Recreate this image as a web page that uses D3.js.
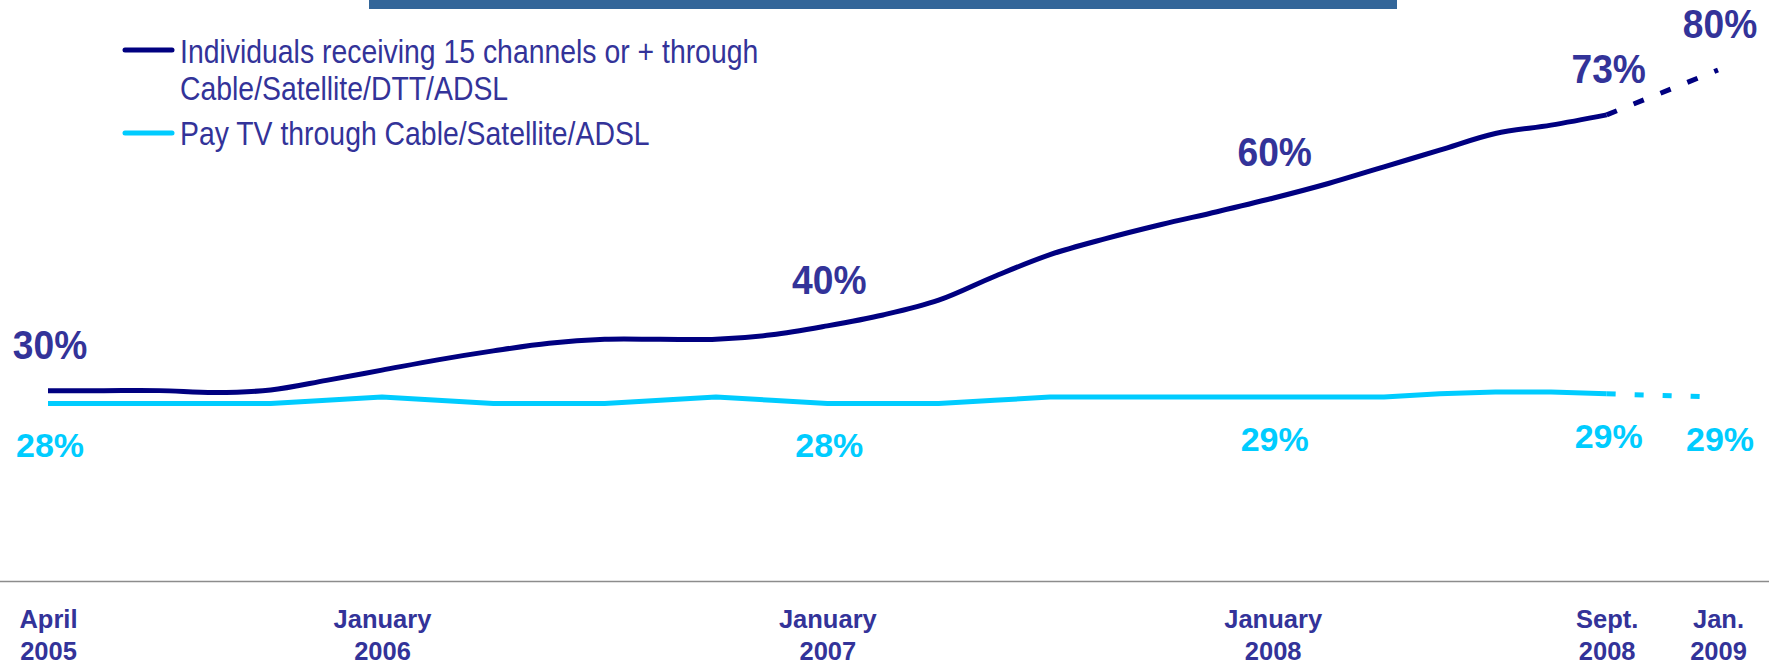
<!DOCTYPE html>
<html lang="en">
<head>
<meta charset="utf-8">
<title>Multichannel TV reception</title>
<script src="https://cdn.jsdelivr.net/npm/d3@7"></script>
<style>
  body { margin: 0; background: #fff; }
  svg text { font-family: "Liberation Sans", Arial, sans-serif; }
  .xaxis text { font-size: 25.5px; font-weight: bold; fill: #333399; }
</style>
</head>
<body>
<script>
// months counted from April 2005 (one wave every 1.5 months)
var months = [0, 1.5, 3, 4.5, 6, 7.5, 9, 10.5, 12, 13.5, 15, 16.5, 18, 19.5, 21, 22.5,
              24, 25.5, 27, 28.5, 30, 31.5, 33, 34.5, 36, 37.5, 39, 40.5, 42];
var channels15 = [30, 30, 30, 29.7, 30.1, 31.6, 33.2, 34.8, 36.2, 37.4, 38, 38, 38, 38.7, 40.1, 41.8,
                  44.1, 47.8, 51.2, 53.7, 55.9, 57.9, 60, 62.3, 64.9, 67.5, 70.1, 71.4, 73];
var payTV = [28, 28, 28, 28, 28, 28.5, 29, 28.5, 28, 28, 28, 28.5, 29, 28.5, 28, 28,
             28, 28.5, 29, 29, 29, 29, 29, 29, 29, 29.5, 29.8, 29.8, 29.5];

// projection Sept. 2008 -> Jan. 2009
var projMonths = [42, 45];
var channels15Proj = [73, 80];
var payTVProj = [29.5, 29];

// value labels
var labelMonths = [0, 21, 33, 42, 45];
var channels15Labels = ["30%", "40%", "60%", "73%", "80%"];
var payTVLabels = ["28%", "28%", "29%", "29%", "29%"];

// x axis
var tickMonths = [0, 9, 21, 33, 42, 45];
var tickLine1 = ["April", "January", "January", "January", "Sept.", "Jan."];
var tickLine2 = ["2005", "2006", "2007", "2008", "2008", "2009"];

var seriesNames = ["Individuals receiving 15 channels or + through", "Cable/Satellite/DTT/ADSL",
                   "Pay TV through Cable/Satellite/ADSL"];

var w = 1769, h = 666;
var darkCol = "#000080", lightCol = "#00ccff", textCol = "#333399";

var svg = d3.select("body").append("svg")
  .attr("width", w)
  .attr("height", h);

var x = d3.scaleLinear().domain([0, 45]).range([48, 1718]);
var y = d3.scaleLinear().domain([0, 80]).range([583, 70]);

// top banner
svg.append("rect")
  .attr("x", 369).attr("y", 0)
  .attr("width", 1028).attr("height", 9)
  .attr("fill", "#336699");

// baseline
svg.append("line")
  .attr("x1", 0).attr("x2", w)
  .attr("y1", 581.5).attr("y2", 581.5)
  .attr("stroke", "#8c8c8c")
  .attr("stroke-width", 1.5);

var xAxis = d3.axisBottom(x)
  .tickValues(tickMonths)
  .tickSize(0)
  .tickFormat("");

var gx = svg.append("g")
  .attr("class", "xaxis")
  .call(xAxis);
gx.select(".domain").remove();
gx.selectAll(".tick text").remove();
gx.selectAll(".tick").each(function(d, i) {
  var t = d3.select(this).append("text")
    .attr("text-anchor", "middle")
    .attr("fill", textCol);
  t.append("tspan").attr("x", 0).attr("y", 628).text(tickLine1[i]);
  t.append("tspan").attr("x", 0).attr("y", 660).text(tickLine2[i]);
});

function pts(ms, vals) {
  return ms.map(function(m, i) { return [m, vals[i]]; });
}

var smooth = d3.line()
  .x(function(d) { return x(d[0]); })
  .y(function(d) { return y(d[1]); })
  .curve(d3.curveCatmullRom.alpha(0.5));

var straight = d3.line()
  .x(function(d) { return x(d[0]); })
  .y(function(d) { return y(d[1]); });

svg.append("path")
  .datum(pts(months, payTV))
  .attr("d", straight)
  .attr("fill", "none")
  .attr("stroke", lightCol)
  .attr("stroke-width", 5)
  .attr("stroke-linejoin", "round");

svg.append("path")
  .datum(pts(projMonths, payTVProj))
  .attr("d", straight)
  .attr("fill", "none")
  .attr("stroke", lightCol)
  .attr("stroke-width", 5)
  .attr("stroke-dasharray", "9,19");

svg.append("path")
  .datum(pts(months, channels15))
  .attr("d", smooth)
  .attr("fill", "none")
  .attr("stroke", darkCol)
  .attr("stroke-width", 5)
  .attr("stroke-linejoin", "round");

svg.append("path")
  .datum(pts(projMonths, channels15Proj))
  .attr("d", straight)
  .attr("fill", "none")
  .attr("stroke", darkCol)
  .attr("stroke-width", 5)
  .attr("stroke-dasharray", "11,18");

function lookup(vals, proj, m) {
  var i = months.indexOf(m);
  return i >= 0 ? vals[i] : proj[projMonths.indexOf(m)];
}

// value labels
svg.selectAll(".lab-dark")
  .data(labelMonths)
  .enter().append("text")
  .attr("class", "lab-dark")
  .attr("transform", function(m) {
    return "translate(" + (x(m) + 2) + "," + (y(lookup(channels15, channels15Proj, m)) - 32) + ") scale(0.93,1)";
  })
  .attr("text-anchor", "middle")
  .attr("font-size", "40px")
  .attr("font-weight", "bold")
  .attr("fill", textCol)
  .text(function(m, i) { return channels15Labels[i]; });

svg.selectAll(".lab-light")
  .data(labelMonths)
  .enter().append("text")
  .attr("class", "lab-light")
  .attr("transform", function(m) {
    return "translate(" + (x(m) + 2) + "," + (y(lookup(payTV, payTVProj, m)) + 54) + ")";
  })
  .attr("text-anchor", "middle")
  .attr("font-size", "34px")
  .attr("font-weight", "bold")
  .attr("fill", lightCol)
  .text(function(m, i) { return payTVLabels[i]; });

// legend
var legend = svg.append("g");
legend.append("line")
  .attr("x1", 125).attr("x2", 172).attr("y1", 50).attr("y2", 50)
  .attr("stroke", darkCol).attr("stroke-width", 5).attr("stroke-linecap", "round");
legend.append("line")
  .attr("x1", 125).attr("x2", 172).attr("y1", 133).attr("y2", 133)
  .attr("stroke", lightCol).attr("stroke-width", 5).attr("stroke-linecap", "round");

var legendY = [62.7, 100, 145];
legend.selectAll("text")
  .data(seriesNames)
  .enter().append("text")
  .attr("transform", function(d, i) { return "translate(180," + legendY[i] + ") scale(0.835,1)"; })
  .attr("font-size", "34px")
  .attr("fill", textCol)
  .text(function(d) { return d; });
</script>
</body>
</html>
